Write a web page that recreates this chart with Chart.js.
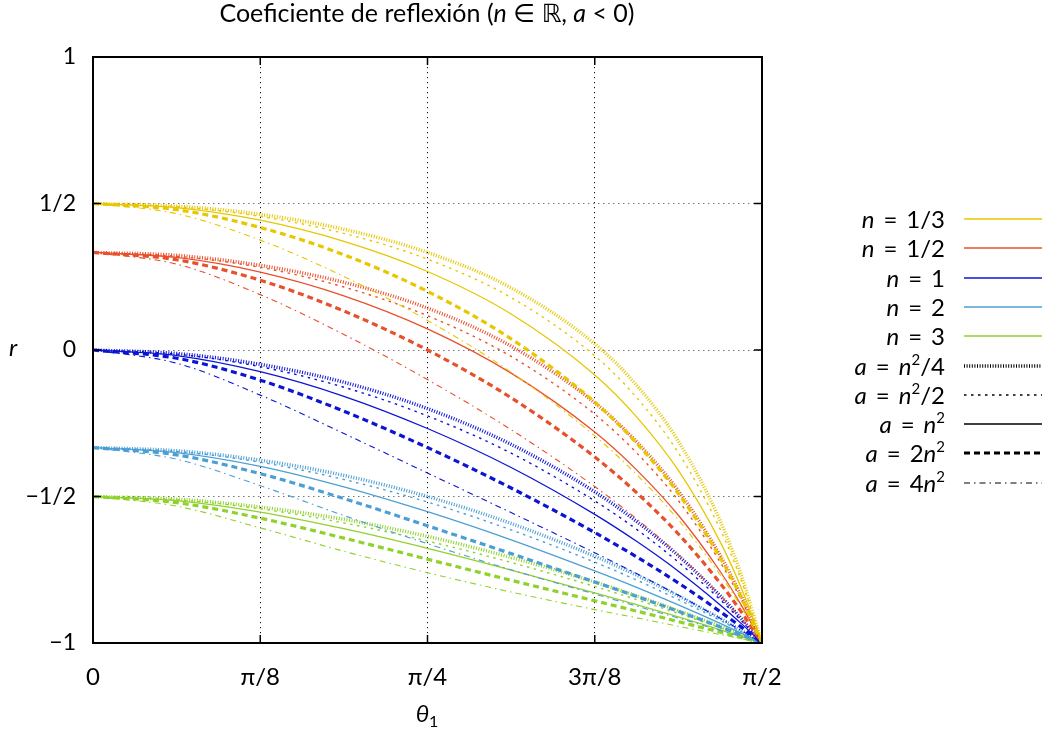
<!DOCTYPE html>
<html>
<head>
<meta charset="utf-8">
<script src="https://cdn.jsdelivr.net/npm/chart.js@4.4.1/dist/chart.umd.min.js"></script>
<style>
  html, body { margin: 0; padding: 0; background: #fff; }
  #wrap { position: relative; width: 1047px; height: 736px; overflow: hidden; font-family: Lato, "DejaVu Sans", sans-serif; color: #000; }
  #chart { position: absolute; left: 0; top: 0; }
  .title { position: absolute; left: 77px; width: 700px; top: -3px; text-align: center; font-size: 25px; line-height: 30px; }
  .ylab { position: absolute; left: 9px; top: 332px; font-size: 24px; font-style: italic; }
  .xlab { position: absolute; left: 397px; width: 60px; top: 698px; text-align: center; font-size: 24px; }
  .xlab sub { font-size: 16px; font-style: normal; vertical-align: -5px; }
  .legend { position: absolute; left: 780px; top: 0; }
  .row { position: absolute; left: 0; width: 265px; height: 28px; }
  .row .lbl { position: absolute; right: 100px; top: 0; white-space: nowrap; font-size: 24px; line-height: 28px; }
  .row .lbl .eq { padding: 0 9px; }
  .row .lbl sup { font-size: 15px; vertical-align: 10px; line-height: 0; }
  .row svg { position: absolute; left: 184px; top: 10px; }
</style>
</head>
<body>
<div id="wrap">
  <canvas id="chart" width="1047" height="736"></canvas>
  <div class="title">Coeficiente de reflexión (<i>n</i> ∈ ℝ, <i>a</i> &lt; 0)</div>
  <div class="ylab">r</div>
  <div class="xlab"><i>θ</i><sub>1</sub></div>
  <div class="legend" id="legend"></div>
</div>
<script>
// Incidence angle samples (radians), 0 … π/2
const thetas = [0, 0.19635, 0.392699, 0.589049, 0.785398, 0.981748, 1.178097,
                1.276272, 1.374447, 1.472622, 1.521709, 1.570796];

// Reflection coefficient r(θ1); rows: a = n²/4, n²/2, n², 2n², 4n²
const rN13 = [
  [0.5, 0.491, 0.463, 0.412, 0.333, 0.212, 0.021, -0.120, -0.311, -0.583, -0.767, -1],
  [0.5, 0.489, 0.456, 0.398, 0.310, 0.179, -0.020, -0.162, -0.351, -0.612, -0.785, -1],
  [0.5, 0.486, 0.443, 0.371, 0.268, 0.123, -0.085, -0.228, -0.411, -0.655, -0.811, -1],
  [0.5, 0.479, 0.418, 0.325, 0.200, 0.038, -0.178, -0.318, -0.490, -0.709, -0.843, -1],
  [0.5, 0.465, 0.375, 0.251, 0.101, -0.076, -0.293, -0.425, -0.580, -0.767, -0.876, -1]
];
const rN12 = [
  [0.333, 0.323, 0.289, 0.231, 0.143, 0.013, -0.180, -0.313, -0.481, -0.701, -0.839, -1],
  [0.333, 0.320, 0.282, 0.215, 0.117, -0.022, -0.219, -0.351, -0.514, -0.724, -0.852, -1],
  [0.333, 0.316, 0.266, 0.185, 0.072, -0.079, -0.280, -0.409, -0.564, -0.756, -0.870, -1],
  [0.333, 0.308, 0.238, 0.133, 0.000, -0.163, -0.365, -0.487, -0.628, -0.796, -0.893, -1],
  [0.333, 0.293, 0.189, 0.053, -0.101, -0.272, -0.466, -0.576, -0.699, -0.838, -0.916, -1]
];
const rN1 = [
  [0, -0.012, -0.049, -0.110, -0.200, -0.322, -0.484, -0.585, -0.702, -0.839, -0.916, -1],
  [0, -0.014, -0.057, -0.127, -0.225, -0.352, -0.515, -0.612, -0.724, -0.852, -0.923, -1],
  [0, -0.019, -0.074, -0.158, -0.268, -0.401, -0.561, -0.653, -0.755, -0.870, -0.933, -1],
  [0, -0.028, -0.103, -0.209, -0.333, -0.471, -0.623, -0.706, -0.795, -0.893, -0.945, -1],
  [0, -0.045, -0.154, -0.285, -0.420, -0.555, -0.692, -0.763, -0.837, -0.916, -0.957, -1]
];
const rN2 = [
  [-0.333, -0.344, -0.376, -0.428, -0.500, -0.592, -0.704, -0.768, -0.839, -0.916, -0.957, -1],
  [-0.333, -0.346, -0.383, -0.442, -0.519, -0.614, -0.724, -0.785, -0.852, -0.923, -0.961, -1],
  [-0.333, -0.350, -0.397, -0.467, -0.552, -0.648, -0.754, -0.810, -0.870, -0.933, -0.966, -1],
  [-0.333, -0.358, -0.422, -0.507, -0.600, -0.695, -0.792, -0.841, -0.892, -0.945, -0.972, -1],
  [-0.333, -0.373, -0.463, -0.565, -0.661, -0.750, -0.833, -0.874, -0.915, -0.957, -0.978, -1]
];
const rN3 = [
  [-0.5, -0.509, -0.536, -0.578, -0.636, -0.708, -0.792, -0.839, -0.890, -0.943, -0.971, -1],
  [-0.5, -0.511, -0.542, -0.590, -0.652, -0.725, -0.807, -0.852, -0.899, -0.948, -0.974, -1],
  [-0.5, -0.514, -0.553, -0.610, -0.677, -0.751, -0.829, -0.869, -0.911, -0.955, -0.977, -1],
  [-0.5, -0.521, -0.574, -0.642, -0.714, -0.786, -0.856, -0.891, -0.927, -0.963, -0.981, -1],
  [-0.5, -0.533, -0.607, -0.687, -0.760, -0.826, -0.886, -0.914, -0.943, -0.971, -0.985, -1]
];

const nLabels = ['1/3', '1/2', '1', '2', '3'];
const aLabels = ['<i>n</i><sup>2</sup>/4', '<i>n</i><sup>2</sup>/2', '<i>n</i><sup>2</sup>', '2<i>n</i><sup>2</sup>', '4<i>n</i><sup>2</sup>'];

const xTickValues = [0, 0.392699, 0.785398, 1.178097, 1.570796];
const xTickLabels = ['0', 'π/8', 'π/4', '3π/8', 'π/2'];
const yTickValues = [-1, -0.5, 0, 0.5, 1];
const yTickLabels = ['−1', '−1/2', '0', '1/2', '1'];

// Styling
const nColors = ['#e6c700', '#e8502c', '#0c14d4', '#4c9fd4', '#90d22c'];
const aStyles = [
  { width: 3.5, dash: [1, 1.6] },
  { width: 1.4, dash: [2.5, 4.5] },
  { width: 1.3, dash: [] },
  { width: 3.2, dash: [6, 4] },
  { width: 1.1, dash: [6, 4, 1.5, 4] }
];

const groups = [rN13, rN12, rN1, rN2, rN3];
const datasets = [];
groups.forEach((rows, i) => {
  rows.forEach((vals, j) => {
    datasets.push({
      label: 'n=' + nLabels[i] + ' a#' + j,
      data: thetas.map((t, k) => ({ x: t, y: vals[k] })),
      borderColor: nColors[i],
      borderWidth: aStyles[j].width,
      borderDash: aStyles[j].dash,
      pointRadius: 0,
      fill: false,
      cubicInterpolationMode: 'monotone'
    });
  });
});

// Closed frame with inward tick marks
const framePlugin = {
  id: 'frame',
  afterDraw(chart) {
    const { ctx, chartArea: a, scales } = chart;
    ctx.save();
    ctx.strokeStyle = '#000';
    ctx.setLineDash([]);
    ctx.lineWidth = 1.5;
    const L = 8;
    xTickValues.forEach(v => {
      const x = scales.x.getPixelForValue(v);
      ctx.beginPath();
      ctx.moveTo(x, a.bottom); ctx.lineTo(x, a.bottom - L);
      ctx.moveTo(x, a.top); ctx.lineTo(x, a.top + L);
      ctx.stroke();
    });
    yTickValues.forEach(v => {
      const y = scales.y.getPixelForValue(v);
      ctx.beginPath();
      ctx.moveTo(a.left, y); ctx.lineTo(a.left + L, y);
      ctx.moveTo(a.right, y); ctx.lineTo(a.right - L, y);
      ctx.stroke();
    });
    ctx.lineWidth = 2;
    ctx.strokeRect(a.left, a.top, a.right - a.left, a.bottom - a.top);
    ctx.restore();
  }
};

new Chart(document.getElementById('chart'), {
  type: 'line',
  data: { datasets },
  plugins: [framePlugin],
  options: {
    responsive: false,
    animation: false,
    devicePixelRatio: 1,
    layout: { padding: { left: 0, right: 285, top: 57, bottom: 0 } },
    plugins: { legend: { display: false }, tooltip: { enabled: false }, title: { display: false } },
    scales: {
      x: {
        type: 'linear',
        min: 0,
        max: 1.570796,
        afterBuildTicks: s => { s.ticks = xTickValues.map(v => ({ value: v })); },
        afterFit: s => { s.height = 93; },
        ticks: {
          autoSkip: false,
          maxRotation: 0,
          padding: 20,
          color: '#000',
          font: { family: 'Lato', size: 24 },
          callback: (v, i) => xTickLabels[i]
        },
        grid: { color: '#111', lineWidth: 1, drawTicks: false },
        border: { display: false, dash: [1.2, 3.8] }
      },
      y: {
        type: 'linear',
        min: -1,
        max: 1,
        afterBuildTicks: s => { s.ticks = yTickValues.map(v => ({ value: v })); },
        afterFit: s => { s.width = 93; },
        ticks: {
          autoSkip: false,
          padding: 17,
          color: '#000',
          font: { family: 'Lato', size: 23 },
          callback: (v, i) => yTickLabels[i]
        },
        grid: { color: '#777', lineWidth: 1, drawTicks: false },
        border: { display: false, dash: [1.5, 3.5] }
      }
    }
  }
});

// Key: colours for n, line styles for a
const legend = document.getElementById('legend');
const rowTop0 = 205, rowStep = 29.3;
function addRow(idx, html, stroke, width, dash) {
  const row = document.createElement('div');
  row.className = 'row';
  row.style.top = (rowTop0 + idx * rowStep) + 'px';
  row.innerHTML = '<span class="lbl">' + html + '</span>' +
    '<svg width="80" height="8"><line x1="0" y1="4" x2="78" y2="4" stroke="' + stroke +
    '" stroke-width="' + width + '" stroke-dasharray="' + (dash.length ? dash.join(' ') : 'none') + '"/></svg>';
  legend.appendChild(row);
}
nLabels.forEach((l, i) => addRow(i, '<i>n</i><span class="eq">=</span>' + l, nColors[i], 1.5, []));
aLabels.forEach((l, j) => addRow(5 + j, '<i>a</i><span class="eq">=</span>' + l, '#000', aStyles[j].width, aStyles[j].dash));
</script>
</body>
</html>
